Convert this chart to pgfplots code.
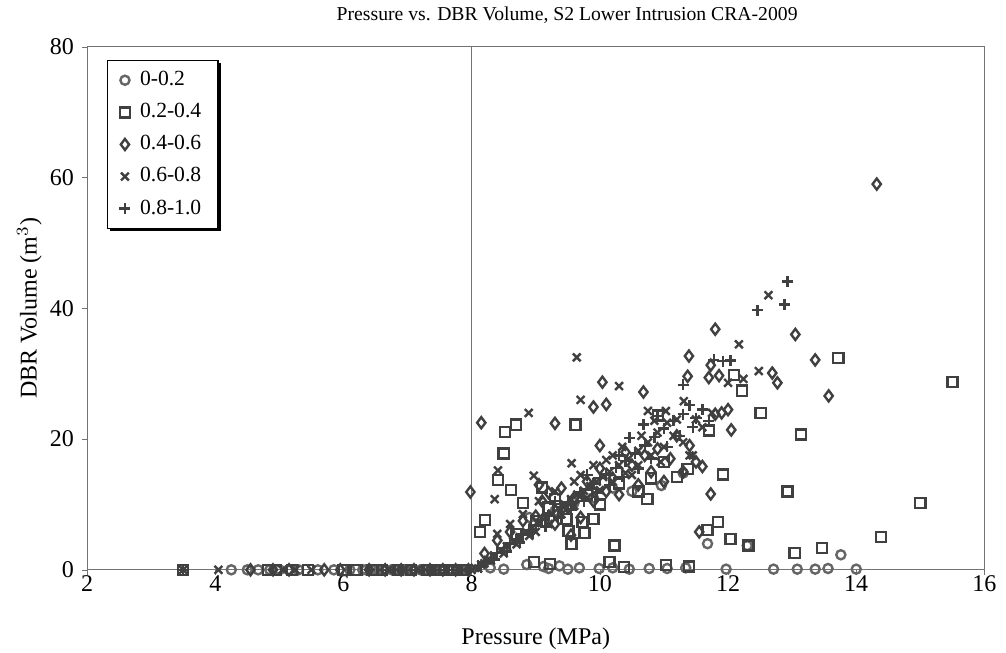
\documentclass[border=0pt]{standalone}
\usepackage{pgfplots}
\pgfplotsset{compat=1.18}
\usepackage{fontspec}
\setmainfont{Liberation Serif}
\usetikzlibrary{shadows}
\definecolor{mk}{HTML}{404040}
\begin{document}
\begin{tikzpicture}
\begin{axis}[
    scale only axis,
    width=374pt, height=218pt,
    xmin=2, xmax=16, ymin=0, ymax=80,
    xtick={2,4,...,16}, ytick={0,20,...,80},
    tick align=outside,
    xtick pos=bottom, ytick pos=left,
    major tick length=2pt,
    axis line style={black!55},
    tick style={black!55},
    /pgf/number format/assume math mode=true,
    ticklabel style={font=\fontsize{10}{12}\selectfont},
    xticklabel style={yshift=3pt},
    title={Pressure vs. DBR Volume, S2 Lower Intrusion CRA-2009},
    title style={font=\fontsize{8.2}{10}\selectfont, at={(0.535,1)}, yshift=0pt},
    xlabel={Pressure (MPa)},
    ylabel={DBR Volume (m$^3$)},
    xlabel shift=8pt,
    ylabel shift=-3.5pt,
    label style={font=\fontsize{10}{12}\selectfont},
    legend cell align=left,
    legend style={at={(0.022,0.975)}, anchor=north west, draw=black, line width=0.5pt,
        font=\fontsize{9}{11}\selectfont, row sep=1.9pt, inner xsep=5pt, inner ysep=2.5pt,
        /tikz/every odd column/.append style={column sep=2pt},
        drop shadow={shadow xshift=1.2pt, shadow yshift=-1.2pt, fill=black, opacity=1}},
    every axis plot/.append style={only marks, line width=1pt},
]
\addplot[black!55, line width=0.5pt, forget plot, sharp plot, mark=none] coordinates {(8,0) (8,80)};

% 0-0.2
\addplot[mark=o, mark size=1.9pt, mark options={draw=mk!80}] coordinates {
(4.25,0)(4.5,0)(4.67,0)(4.85,0)(5.0,0)(5.3,0)(5.6,0)(5.85,0)(6.1,0)(6.3,0)(6.55,0)(6.75,0)(7.0,0)(7.2,0)(7.45,0)(7.65,0)(7.85,0)
(6.35,0)(6.5,0)(6.65,0)(6.8,0)(6.95,0)(7.1,0)(7.25,0)(7.4,0)(7.55,0)(7.7,0)(7.8,0)(7.9,0)
(8.29,0.3)(8.5,0.1)(8.86,0.8)(9.12,0.5)(9.2,0.2)(9.37,0.6)(9.5,0.1)(9.68,0.3)(9.99,0.2)(10.2,0.3)(10.46,0.1)(10.77,0.2)(11.05,0.2)(11.34,0.3)(11.97,0.1)(12.71,0.1)(13.08,0.1)(13.36,0.1)(13.56,0.2)(14.0,0.1)
(11.68,4.0)(13.76,2.3)(10.96,12.9)(10.5,12.0)(9.9,11.0)(9.3,9.0)(8.9,8.0)(10.2,12.5)(9.6,10.3)(11.3,14.8)(12.3,3.7)
};
\addlegendentry{0-0.2}

% 0.2-0.4
\addplot[mark=square, mark size=2.1pt, mark options={draw=mk}] coordinates {
(3.5,0)(4.82,0)(4.95,0)(5.2,0)(5.45,0)(6.0,0)(6.2,0)(6.45,0)(6.6,0)(6.85,0)(7.05,0)(7.3,0)(7.5,0)(7.7,0)(7.9,0)
(15.5,28.7)(15.0,10.2)(14.39,5.0)(13.72,32.4)(13.47,3.3)(13.14,20.7)(12.93,12.0)(13.04,2.6)(12.51,24.0)(12.22,27.4)(12.09,29.8)
(11.84,7.3)(11.68,6.1)(12.04,4.7)(12.32,3.7)(11.92,14.6)(11.70,21.3)
(8.52,21.1)(8.69,22.2)(9.62,22.2)(8.50,17.8)(8.41,13.7)(8.61,12.2)(8.21,7.6)(8.13,5.8)(9.48,7.8)(9.90,7.8)(9.73,7.3)(9.51,5.9)(9.76,5.6)(9.56,4.0)(10.23,3.7)(10.74,10.8)(11.37,15.4)(10.91,23.6)
(8.97,1.2)(9.22,0.9)(10.15,1.2)(10.38,0.4)(11.03,0.7)(11.39,0.5)
(8.7,5.5)(9.0,7.5)(9.2,9.5)(9.3,10.8)(9.8,11.5)(10.0,10.0)(10.3,13.2)(10.6,12.0)(10.8,14.0)(11.0,16.5)(11.2,14.2)(9.1,12.6)(8.8,10.2)
};
\addlegendentry{0.2-0.4}

% 0.4-0.6
\addplot[mark=diamond, mark size=2.3pt, mark options={draw=mk}] coordinates {
(4.55,0)(4.9,0)(5.15,0)(5.7,0)(5.95,0)(6.4,0)(6.65,0)(6.9,0)(7.1,0)(7.35,0)(7.55,0)(7.75,0)(7.95,0)
(8.2,2.5)(8.4,4.5)(8.6,5.8)(8.8,7.5)(9.0,8.2)(9.1,10.5)(9.2,11.8)(9.3,7.0)(9.4,12.5)(9.5,9.5)(9.6,11.0)(9.7,8.0)(9.8,13.5)(9.9,10.5)(10.0,15.5)(10.1,12.0)(10.2,14.0)(10.3,11.5)(10.4,18.0)(10.5,16.0)(10.6,13.0)(10.7,17.5)(10.8,15.0)(10.9,18.5)(11.0,13.5)(11.1,17.0)(11.2,20.5)(11.3,15.0)(11.4,19.0)(11.5,16.5)(11.6,15.8)(11.8,23.8)(11.9,24.0)(12.05,21.4)(12.0,24.5)(11.73,11.6)(11.55,5.8)(10.0,19.0)(9.55,5.3)(9.05,13.0)
(14.32,59.0)(13.05,36.0)(13.36,32.1)(13.57,26.6)(11.80,36.8)(11.73,31.3)(11.70,29.4)(11.86,29.7)(12.69,30.1)(12.77,28.6)(11.39,32.7)(11.37,29.6)(10.04,28.7)(10.68,27.2)(9.90,24.9)(10.10,25.3)(9.30,22.4)(8.15,22.5)(7.98,11.9)
};
\addlegendentry{0.4-0.6}

% 0.6-0.8
\addplot[mark=x, mark size=2.3pt, mark options={draw=mk}] coordinates {
(3.5,0)(4.05,0)(5.05,0)(5.25,0)(5.5,0)(6.7,0)(6.95,0)(7.15,0)(7.4,0)(7.6,0)(7.8,0)(8.0,0)
(8.05,0.3)(8.15,0.8)(8.25,1.5)(8.35,2.2)(8.45,3.0)(8.55,3.6)(8.65,4.3)(8.75,5.0)(8.85,5.8)(8.95,6.5)(9.05,7.2)(9.15,8.0)(9.25,8.6)(9.35,9.4)(9.45,10.0)(9.55,10.8)(9.65,11.5)(9.75,12.1)(9.85,12.8)(9.95,13.5)(10.05,14.2)(10.15,15.0)(10.3,16.0)(10.45,17.0)(10.6,18.2)(10.75,19.5)(10.9,21.0)(11.05,22.5)(11.2,23.0)
(9.05,10.5)(9.3,12.0)(9.6,13.5)(9.9,16.0)(10.2,17.5)(10.5,14.5)(10.95,16.5)(11.3,19.5)(11.4,17.5)(8.4,5.5)(8.6,7.0)(8.8,8.5)
(8.1,0.2)(8.2,1.0)(8.3,1.4)(8.5,2.5)(8.7,3.9)(8.9,5.2)(9.0,5.8)(9.2,7.0)(9.4,8.5)(9.6,9.8)(9.8,11.0)(10.0,12.2)(10.2,13.5)(10.4,14.8)(10.6,16.0)(10.8,17.5)(11.0,18.8)(9.7,14.5)(10.1,16.8)(10.35,18.8)(10.65,20.5)(10.85,22.8)(11.15,20.5)(11.6,21.8)(11.75,24.0)
(12.63,42.0)(12.17,34.5)(12.48,30.4)(12.24,29.2)(12.0,28.6)(9.64,32.5)(10.30,28.1)(9.70,26.0)(8.89,24.0)(9.56,16.3)(8.41,15.2)(8.36,10.8)(8.97,14.4)(10.75,24.3)(11.03,24.3)(11.31,25.8)(11.5,23.0)(11.45,17.5)
};
\addlegendentry{0.6-0.8}

% 0.8-1.0
\addplot[mark=+, mark size=2.3pt, mark options={draw=mk}] coordinates {
(3.5,0)(6.8,0)(7.25,0)(7.7,0)(6.4,0)(6.6,0)(6.9,0)(7.05,0)(7.35,0)(7.5,0)(7.65,0)(7.85,0)(7.95,0)
(8.1,0.6)(8.2,1.2)(8.3,1.8)(8.4,2.6)(8.5,3.3)(8.6,4.0)(8.7,4.6)(8.8,5.4)(8.9,6.1)(9.0,6.8)(9.1,7.6)(9.2,8.3)(9.4,9.6)(9.5,10.4)(9.7,11.8)(9.9,13.1)(10.0,14.0)(10.1,14.6)(10.25,15.6)(10.4,16.6)(10.55,17.8)(10.7,19.0)(10.85,20.3)(11.0,21.6)(11.15,22.8)(11.3,23.8)(11.4,25.2)
(8.15,0.4)(8.35,1.6)(8.55,2.8)(8.75,4.2)(8.95,5.6)(9.15,6.6)(9.35,8.0)(9.55,9.2)(9.75,10.5)(9.95,11.8)(10.15,13.0)(10.35,14.2)(10.6,15.5)(10.8,17.0)(11.05,18.8)(11.25,20.5)(11.45,21.8)(9.3,10.5)(9.8,14.5)(10.3,17.5)(10.9,23.5)(11.5,23.2)
(10.68,22.2)(10.46,20.2)(11.30,28.3)(11.78,32.1)(11.92,31.9)(12.04,32.0)(12.46,39.7)(12.88,40.6)(12.93,44.1)(11.6,24.5)(11.7,22.8)
};
\addlegendentry{0.8-1.0}
\end{axis}
\pgfresetboundingbox
\path ([xshift=-36.3pt,yshift=-34.4pt]current axis.south west) rectangle ([xshift=9pt,yshift=19.5pt]current axis.north east);
\end{tikzpicture}
\end{document}
